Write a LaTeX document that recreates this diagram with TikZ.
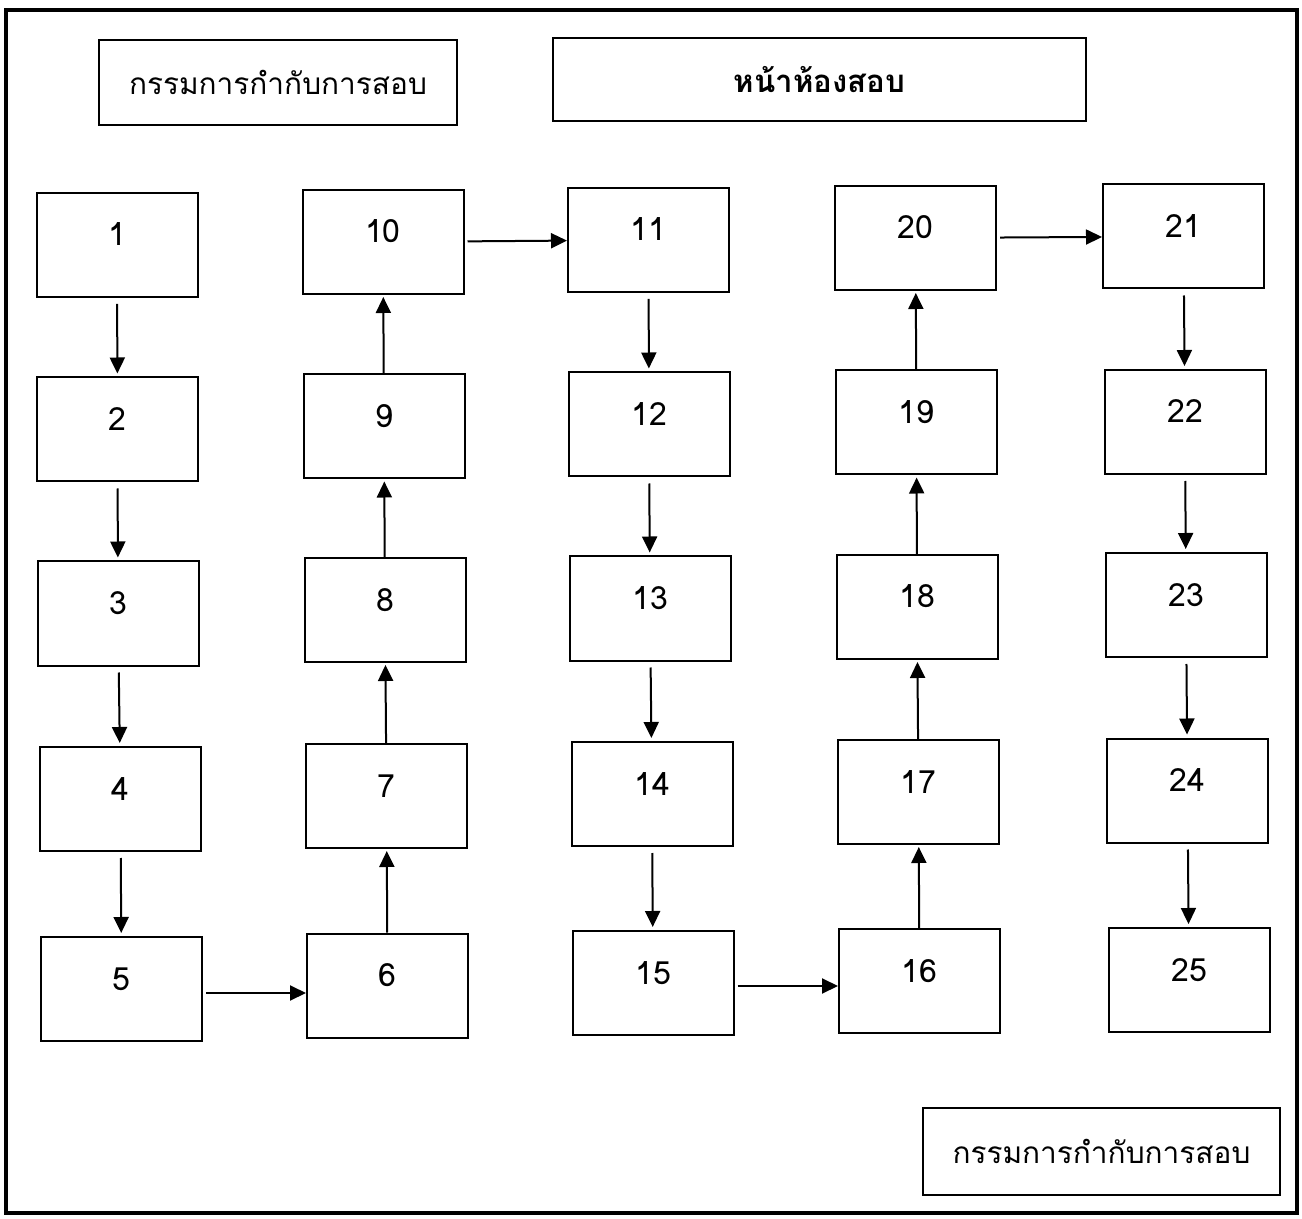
\documentclass[tikz,border=0pt]{standalone}
\usepackage{fontspec}
\newfontfamily\thai[Script=Thai]{Loma}
\usetikzlibrary{arrows.meta}
\begin{document}
\begin{tikzpicture}[x=0.5pt,y=-0.5pt,
  numbox/.style={draw,line width=1pt,minimum width=80.5pt,minimum height=52pt,inner sep=0pt,
    text height=1pt,text depth=0pt,font=\thai\fontsize{16}{19}\selectfont},
  headbox/.style={draw,line width=1pt,inner sep=0pt,font=\thai\fontsize{14.9}{18}\selectfont},
  flow/.style={line width=1pt,-{Triangle[length=8pt,width=7.5pt]}},
  dflow/.style={flow,shorten <=3pt,shorten >=1.5pt},
  uflow/.style={flow,shorten <=0pt,shorten >=1pt},
  hflow/.style={flow,shorten <=1.5pt,shorten >=0pt}]
\useasboundingbox (0,0) rectangle (1302,1219);
\draw[line width=1.6pt] (6,10) rectangle (1297,1213);
% header boxes
\node[headbox,minimum width=179pt,minimum height=42.5pt] (h1) at (278,82.5) {กรรมการกำกับการสอบ};
\node[headbox,minimum width=266.5pt,minimum height=41.5pt,font=\thai\fontsize{15.6}{18}\selectfont] (h2) at (819.5,79.5) {\bfseries หน้าห้องสอบ};
\node[headbox,minimum width=178.5pt,minimum height=43.5pt] (h3) at (1101.5,1151.5) {กรรมการกำกับการสอบ};
% column 1
\node[numbox] (n1) at (117,245) {1};
\node[numbox] (n2) at (117.5,429.5) {2};
\node[numbox] (n3) at (118,613.5) {3};
\node[numbox] (n4) at (120.5,799) {4};
\node[numbox] (n5) at (121.5,989) {5};
% column 2
\node[numbox] (n10) at (383,242) {10};
\node[numbox] (n9) at (384,426.5) {9};
\node[numbox] (n8) at (385,610) {8};
\node[numbox] (n7) at (386.5,796) {7};
\node[numbox] (n6) at (387.5,985.5) {6};
% column 3
\node[numbox] (n11) at (648.5,240) {11};
\node[numbox] (n12) at (649,424.5) {12};
\node[numbox] (n13) at (650,608.5) {13};
\node[numbox] (n14) at (652,794) {14};
\node[numbox] (n15) at (653,983) {15};
% column 4
\node[numbox] (n20) at (915.5,238) {20};
\node[numbox] (n19) at (916.5,422.5) {19};
\node[numbox] (n18) at (917,607) {18};
\node[numbox] (n17) at (918.5,792) {17};
\node[numbox] (n16) at (919.5,981) {16};
% column 5
\node[numbox] (n21) at (1183.5,236.5) {21};
\node[numbox] (n22) at (1185,422) {22};
\node[numbox] (n23) at (1186,605) {23};
\node[numbox] (n24) at (1187.5,790.5) {24};
\node[numbox] (n25) at (1189,980) {25};
% arrows
\draw[dflow] (n1) -- (n2);
\draw[dflow] (n2) -- (n3);
\draw[dflow] (n3) -- (n4);
\draw[dflow] (n4) -- (n5);
\draw[hflow] (n5.east |- 0,993) -- (n6.west |- 0,993);
\draw[uflow] (n6) -- (n7);
\draw[uflow] (n7) -- (n8);
\draw[uflow] (n8) -- (n9);
\draw[uflow] (n9) -- (n10);
\draw[hflow] (n10) -- (n11);
\draw[dflow] (n11) -- (n12);
\draw[dflow] (n12) -- (n13);
\draw[dflow] (n13) -- (n14);
\draw[dflow] (n14) -- (n15);
\draw[hflow] (n15.east |- 0,986) -- (n16.west |- 0,986);
\draw[uflow] (n16) -- (n17);
\draw[uflow] (n17) -- (n18);
\draw[uflow] (n18) -- (n19);
\draw[uflow] (n19) -- (n20);
\draw[hflow] (n20) -- (n21);
\draw[dflow] (n21) -- (n22);
\draw[dflow] (n22) -- (n23);
\draw[dflow] (n23) -- (n24);
\draw[dflow] (n24) -- (n25);
\end{tikzpicture}
\end{document}
